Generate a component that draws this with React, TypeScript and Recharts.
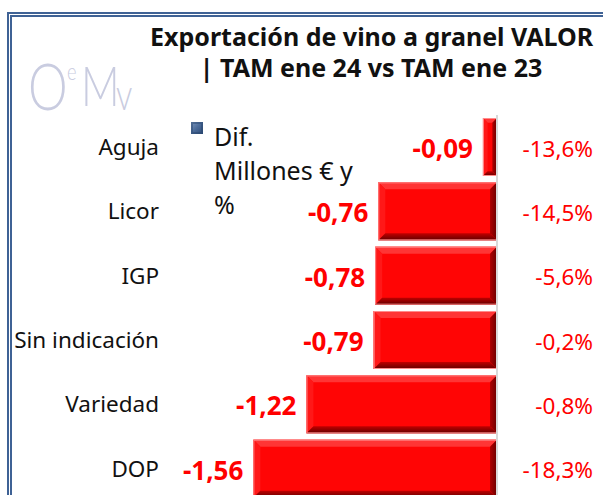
import React from 'react';
import { BarChart, Bar, XAxis, YAxis, ReferenceLine, LabelList } from 'recharts';

const categories = ['Aguja', 'Licor', 'IGP', 'Sin indicación', 'Variedad', 'DOP'];
const diffValues = [-0.09, -0.76, -0.78, -0.79, -1.22, -1.56];
const pctLabels = ['-13,6%', '-14,5%', '-5,6%', '-0,2%', '-0,8%', '-18,3%'];
const titleLines = ['Exportación de vino a granel VALOR', '| TAM ene 24 vs TAM ene 23'];
const legendLabel = ['Dif.', 'Millones € y', '%'];

const data = categories.map((name, i) => ({ name, value: diffValues[i], pct: pctLabels[i] }));

const FONT = '"Noto Sans", "Open Sans", sans-serif';

function BevelBar(props: any) {
  const { x, y, width, height } = props;
  const l = Math.min(x, x + width);
  const w = Math.abs(width);
  const h = height;
  const b = Math.min(7, w / 3, h / 3);
  return (
    <g>
      <rect x={l} y={y} width={w} height={h} fill="#ff0505" />
      <polygon points={`${l},${y} ${l + w},${y} ${l + w - b},${y + b} ${l + b},${y + b}`} fill="#ff3535" />
      <polygon points={`${l},${y} ${l + b},${y + b} ${l + b},${y + h - b} ${l},${y + h}`} fill="#ff1818" />
      <polygon points={`${l},${y + h} ${l + b},${y + h - b} ${l + w - b},${y + h - b} ${l + w},${y + h}`} fill="url(#bevelBottom)" />
      <polygon points={`${l + w},${y} ${l + w},${y + h} ${l + w - b},${y + h - b} ${l + w - b},${y + b}`} fill="url(#bevelRight)" />
      <rect x={l + 0.5} y={y + 0.5} width={Math.max(0, w - 1)} height={h - 1} fill="none" stroke="#ff8a8a" strokeWidth={1} />
    </g>
  );
}

function ValueLabel(props: any) {
  const { x, y, width, height, value } = props;
  const l = Math.min(x, x + width);
  return (
    <text x={l - 10} y={y + height / 2 + 1} textAnchor="end" dominantBaseline="central"
      fill="#ff0000" fontFamily={FONT} fontWeight={700} fontSize={26}>
      {Number(value).toFixed(2).replace('.', ',')}
    </text>
  );
}

function PctLabel(props: any) {
  const { x, y, width, height, value } = props;
  const r = Math.max(x, x + width);
  return (
    <text x={r + 96} y={y + height / 2 + 1} textAnchor="end" dominantBaseline="central"
      fill="#ff0000" fontFamily={FONT} fontSize={22.5}>
      {value}
    </text>
  );
}

export default function App() {
  return (
    <div style={{ position: 'absolute', left: 0, top: 0, width: 603, height: 495, overflow: 'hidden', background: '#fff' }}>
      <div style={{ position: 'absolute', left: 7, top: 12, width: 620, height: 520, borderLeft: '5px double #3f6295', borderTop: '5px double #3f6295', boxSizing: 'border-box' }} />
      <svg style={{ position: 'absolute', left: 0, top: 0 }} width={146} height={125}>
        <text fill="#c9cce0" fontFamily="Lato, 'Noto Sans', sans-serif" fontWeight={300} transform="scale(0.76,1)">
          <tspan x={36.8} y={110} fontSize={66}>O</tspan>
          <tspan x={88.2} y={80} fontSize={24}>e</tspan>
          <tspan x={106.6} y={106} fontSize={56}>M</tspan>
          <tspan x={152.6} y={110} fontSize={43}>v</tspan>
        </text>
      </svg>
      <div style={{ position: 'absolute', left: 150, width: 442, top: 21, textAlign: 'center', fontFamily: FONT, fontWeight: 700, fontSize: 25, lineHeight: '31px', color: '#111', whiteSpace: 'nowrap' }}>
        {titleLines.map((t, i) => <div key={i}>{t}</div>)}
      </div>
      <div style={{ position: 'absolute', left: 0, top: 0 }}>
        <BarChart width={603} height={505} data={data} layout="vertical"
          margin={{ top: 115, right: 106, left: 0, bottom: 4 }} barCategoryGap={3}>
          <defs>
            <linearGradient id="bevelBottom" x1="0" y1="0" x2="0" y2="1">
              <stop offset="0%" stopColor="#c00000" />
              <stop offset="100%" stopColor="#600000" />
            </linearGradient>
            <linearGradient id="bevelRight" x1="0" y1="0" x2="1" y2="0">
              <stop offset="0%" stopColor="#b00000" />
              <stop offset="100%" stopColor="#6a0000" />
            </linearGradient>
          </defs>
          <XAxis type="number" domain={[-2.1, 0]} hide />
          <YAxis type="category" dataKey="name" width={169} axisLine={false} tickLine={false}
            tickSize={0} tickMargin={10}
            tick={{ fill: '#111', fontSize: 22.5, fontFamily: FONT }} interval={0} />
          <ReferenceLine x={0} stroke="#d9d9d9" strokeWidth={2} />
          <Bar dataKey="value" isAnimationActive={false} shape={<BevelBar />}>
            <LabelList dataKey="value" content={<ValueLabel />} />
            <LabelList dataKey="pct" content={<PctLabel />} />
          </Bar>
        </BarChart>
      </div>
      <div style={{ position: 'absolute', left: 191, top: 122, width: 12, height: 12, background: 'linear-gradient(135deg, #7d97bd 0%, #4a6a98 50%, #2c4a75 100%)', boxShadow: 'inset 0 0 0 2px rgba(40,70,110,0.5)' }} />
      <div style={{ position: 'absolute', left: 214, top: 119, fontFamily: FONT, fontSize: 25, lineHeight: '34px', color: '#111', whiteSpace: 'nowrap' }}>
        {legendLabel.map((t, i) => <div key={i}>{t}</div>)}
      </div>
    </div>
  );
}
